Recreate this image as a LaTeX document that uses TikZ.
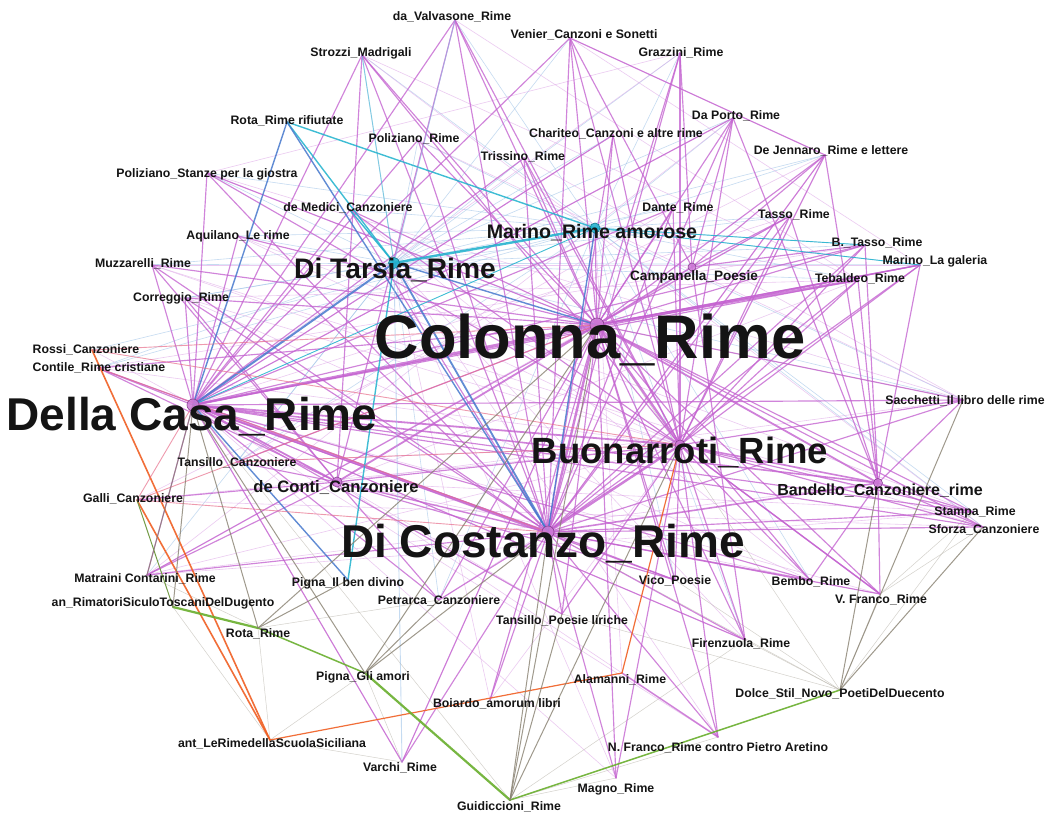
\documentclass[tikz,border=0pt]{standalone}
\usepackage{fontspec}
\setmainfont{Liberation Sans}
\definecolor{mg}{RGB}{196,98,208}
\definecolor{mgl}{RGB}{222,168,232}
\definecolor{cy}{RGB}{30,178,205}
\definecolor{bl}{RGB}{70,120,205}
\definecolor{lbl}{RGB}{150,190,230}
\definecolor{orn}{RGB}{240,95,35}
\definecolor{sal}{RGB}{232,112,140}
\definecolor{grn}{RGB}{105,175,45}
\definecolor{gy}{RGB}{135,128,112}
\begin{document}
\begin{tikzpicture}[x=1pt,y=-1pt,line cap=round,
  me/.style={draw=mg,line width=1.15pt,opacity=.78},
  mt/.style={draw=mg,line width=2.4pt,opacity=.8},
  mf/.style={draw=mgl,line width=.6pt,opacity=.6},
  be/.style={draw=bl,line width=1.4pt,opacity=.85},
  ce/.style={draw=cy,line width=1.4pt,opacity=.85},
  bf/.style={draw=lbl,line width=.6pt,opacity=.55},
  oe/.style={draw=orn,line width=1.6pt,opacity=.9},
  se/.style={draw=sal,line width=.9pt,opacity=.7},
  ge/.style={draw=grn,line width=1.5pt,opacity=.9},
  ye/.style={draw=gy,line width=1pt,opacity=.8},
  yf/.style={draw=gy!60,line width=.5pt,opacity=.6},
  txt/.style={anchor=base,inner sep=0pt,text=black!92,font=\bfseries\fontsize{12.3}{13}\selectfont},
  dot/.style={circle,inner sep=0pt,fill=mg!85,draw=mg!70!black,line width=.6pt,fill opacity=.85}]
\useasboundingbox[fill=white] (0,0) rectangle (1053,814);

% vertex positions
\foreach \n/\x/\y in {
  val/455/20, ven/570/38, gra/680/53, str/362/55, rrr/287/122, por/418/140,
  cha/613/135, tri/524/158, dap/733/118, dej/825/155, pst/207/173, med/350/210,
  dan/673/208, tas/790/216, aqu/238/236, bta/865/245, muz/152/265, mlg/920/265,
  teb/858/280, cor/185/298, ros/92/350, con/98/368, sac/963/400, tac/237/462,
  gal/137/500, sta/973/512, sfo/983/527, mat/147/575, pbd/348/580, rim/173/607,
  vic/675/580, bem/810/580, pet/439/600, vfr/880/594, tpl/562/614, rot/258/628,
  fir/745/640, pga/365/673, ala/622/673, boi/490/700, dsn/840/690, ant/270/740,
  nfr/718/737, var/402/762, mag/616/778, gui/510/800,
  col/597/325, dca/193/405, cos/548/532, buo/680/445, tar/394/263, mar/595/228,
  dco/337/482, ban/878/483, cam/692/267}
  \coordinate (\n) at (\x,\y);

% faint background mesh
\foreach \p in {val,ven,str,por,cha,tri,pst,med,aqu,muz,cor,con,tac,mat,pet,sac,bta,mlg,teb,dej,dap,dan,tas,gra}
  \draw[bf] (\p) -- (tar);
\foreach \p in {val,str,por,pst,aqu,muz,cor,ros,con,bta,mlg,teb,sac,tas,dej,dap,gra,pet,tac,vic,bem,fir,med,sta,sfo}
  \draw[bf] (\p) -- (mar);
\foreach \a/\b in {ven/dej,gra/dca,str/teb,dap/dca,dej/cos,tas/dca,pst/col,aqu/buo,muz/buo,cor/buo,
  val/teb,ven/mlg,gra/pst,cha/dca,tri/sac,str/sfo,dap/mat,dej/gal,por/sac,med/bem,dan/tac,tas/mat,
  bta/con,mlg/muz,teb/cor,sac/pst,sta/aqu,sfo/muz,vic/con,bem/cor,fir/dca,nfr/dca,mag/dca,tpl/dco,
  ala/dco,var/col,boi/buo,pet/buo,mat/buo,gal/buo,tac/buo,con/buo,ros/dco,vfr/dca,vfr/cos,fir/tar,
  nfr/tar,mag/tar,boi/tar,ala/mar,var/dca,ban/mat,sta/mat,sfo/gal,sac/dco,sta/dco,bem/dco,teb/dco}
  \draw[mf] (\a) -- (\b);
\foreach \a/\b in {dsn/fir,dsn/tpl,dsn/vic,dsn/cos,dsn/col,dsn/sta,dsn/vfr,gui/nfr,gui/mag,gui/fir,
  pga/var,rot/ant,rim/ant,mat/rot,sac/col,sfo/vfr,sta/vfr,gui/dca,ant/var,pga/ant,rot/pet}
  \draw[yf] (\a) -- (\b);

% ordinary links to the main hubs
\foreach \p in {val,ven,gra,str,por,cha,tri,dap,dej,pst,med,dan,tas,aqu,bta,muz,mlg,cor,con,
  sac,tac,sta,sfo,mat,vic,bem,pet,vfr,tpl,fir,nfr,var,mag,boi}
  \draw[me] (\p) -- (col);
\foreach \p in {val,ven,str,por,cha,tri,pst,med,aqu,muz,cor,con,tac,mat,pet,tpl,vic,bem,
  sta,sfo,sac,teb,mlg,bta,dan,fir,var,dap}
  \draw[me] (\p) -- (dca);
\foreach \p in {val,ven,gra,str,por,cha,tri,dap,dej,pst,med,dan,tas,bta,mlg,teb,sac,cor,muz,
  aqu,con,sta,sfo,vic,bem,vfr,tpl,fir,nfr,mag,var,boi,pet,mat}
  \draw[me] (\p) -- (cos);
\foreach \p in {val,ven,gra,str,cha,tri,dap,dej,dan,tas,bta,mlg,teb,sac,sta,sfo,bem,vfr,fir,
  nfr,vic,pst,med,mag,tpl}
  \draw[me] (\p) -- (buo);
\foreach \p in {sac,sta,sfo,vfr,bem,teb,bta,mlg,tas,dej,dap}
  \draw[me] (\p) -- (ban);
\foreach \p in {tac,gal,mat,con,cor,muz,pet,vic,str,val}
  \draw[me] (\p) -- (dco);
\foreach \p in {dap,dej,tas,gra,ven,bta,fir}
  \draw[me] (\p) -- (cam);

% heavy links between hubs
\draw[mt] (col) -- (cos);
\draw[mt] (col) -- (dca);
\draw[mt] (col) -- (buo);
\draw[mt] (dca) -- (cos);
\draw[mt] (cos) -- (buo);
\draw[mt,line width=1.8pt] (dca) -- (buo);
\draw[mt,line width=1.8pt] (col) -- (ban);
\draw[mt] (col) -- (teb);
\draw[mt,line width=1.8pt] (col) -- (dco);
\draw[mt,line width=1.8pt] (dca) -- (dco);
\draw[mt,line width=1.6pt] (col) -- (cam);
\draw[mt,line width=1.6pt] (buo) -- (ban);
\draw[mt,line width=1.6pt] (cos) -- (ban);
\draw[mt,line width=1.6pt] (dca) -- (ban);
\draw[mt,line width=1.4pt] (buo) -- (vfr);
\draw[mt,line width=1.4pt] (cos) -- (dco);
\draw[mt,line width=1.4pt] (ala) -- (nfr);
\draw[mt,line width=1.4pt] (col) -- (mlg);
\draw[me] (ven) -- (dej);
\draw[me] (col) -- (mar);
\draw[me] (buo) -- (dco);

% cyan and blue links
\draw[ce,line width=2.4pt] (tar) -- (mar);
\draw[ce] (rrr) -- (tar);
\draw[ce] (rrr) -- (mar);
\draw[ce] (med) -- (tar);
\draw[ce] (tar) -- (pbd);
\draw[be,line width=2pt] (tar) -- (dca);
\draw[be,line width=1.8pt] (tar) -- (cos);
\draw[be] (tar) -- (col);
\draw[be] (rrr) -- (dca);
\draw[be] (rrr) -- (cos);
\draw[be] (dca) -- (pbd);
\draw[be] (mar) -- (cos);
\draw[bf,line width=1pt,draw=cy!70!lbl] (str) -- (tar);
\draw[ce,line width=.9pt] (mar) -- (bta);
\draw[ce,line width=.9pt] (mar) -- (mlg);
\draw[ce,line width=.9pt] (mar) -- (dca);
\draw[bf,line width=.9pt] (var) -- (tar);
\draw[bf,line width=.9pt] (val) -- (tar);

% orange links
\draw[oe] (ros) -- (ant);
\draw[oe] (gal) -- (ant);
\draw[oe,line width=1.2pt] (ant) -- (ala);
\draw[oe,line width=1.2pt] (ala) -- (buo);
\draw[se] (ros) -- (col);
\draw[se] (ros) -- (buo);
\draw[se] (gal) -- (col);
\draw[se] (gal) -- (cos);
\draw[se] (con) -- (cos);
\draw[se] (tac) -- (buo);
\draw[se] (gal) -- (dca);

% green links
\draw[ge,line width=2.2pt] (rim) -- (rot);
\draw[ge] (rot) -- (pga);
\draw[ge,line width=2.2pt] (pga) -- (gui);
\draw[ge] (gui) -- (dsn);
\draw[draw=grn!60!gy,line width=1pt] (gal) -- (rim);

% grey links
\foreach \a/\b in {gui/cos,gui/col,gui/buo,gui/tpl,pga/pet,pga/cos,pga/col,pga/dca,rot/col,rot/dca,
  dsn/ban,dsn/sac,dsn/sfo,mat/dca,rim/dca,pbd/rot}
  \draw[ye] (\a) -- (\b);

% hub markers
\node[dot,minimum size=14pt] (col-d) at (col) {};
\node[dot,minimum size=12pt] (dca-d) at (dca) {};
\node[dot,minimum size=12pt] (cos-d) at (cos) {};
\node[dot,minimum size=10pt] (buo-d) at (buo) {};
\node[dot,minimum size=10pt] (dco-d) at (dco) {};
\node[dot,minimum size=9pt] (ban-d) at (ban) {};
\node[dot,minimum size=8pt] (cam-d) at (cam) {};
\node[dot,fill=cy,draw=cy!70!black,minimum size=11pt] (tar-d) at (tar) {};
\node[dot,fill=cy,draw=cy!70!black,minimum size=10pt] (mar-d) at (mar) {};

% labels
\foreach \n/\x/\y/\t in {
  val/452/20/da\_Valvasone\_Rime, ven/584/38/Venier\_Canzoni e Sonetti, gra/681/56/Grazzini\_Rime,
  str/361/56/Strozzi\_Madrigali, rrr/287/124/Rota\_Rime rifiutate, por/414/142/Poliziano\_Rime,
  cha/616/137/Chariteo\_Canzoni e altre rime, tri/523/160/Trissino\_Rime, dap/736/119/Da Porto\_Rime,
  dej/831/154/De Jennaro\_Rime e lettere, pst/207/177/Poliziano\_Stanze per la giostra,
  med/348/211/de Medici\_Canzoniere, dan/678/211/Dante\_Rime, tas/794/218/Tasso\_Rime,
  aqu/238/239/Aquilano\_Le rime, bta/877/246/B.\_Tasso\_Rime, muz/143/267/Muzzarelli\_Rime,
  mlg/935/264/Marino\_La galeria, teb/860/282/Tebaldeo\_Rime, cor/181/301/Correggio\_Rime,
  ros/86/353/Rossi\_Canzoniere, con/99/371/Contile\_Rime cristiane,
  sac/965/404/Sacchetti\_Il libro delle rime, tac/237/466/Tansillo\_Canzoniere,
  gal/133/502/Galli\_Canzoniere, sta/975/515/Stampa\_Rime, sfo/984/533/Sforza\_Canzoniere,
  mat/145/582/Matraini Contarini\_Rime, pbd/348/586/Pigna\_Il ben divino,
  rim/163/606/an\_RimatoriSiculoToscaniDelDugento, vic/675/584/Vico\_Poesie, bem/811/585/Bembo\_Rime,
  pet/439/604/Petrarca\_Canzoniere, vfr/881/603/V. Franco\_Rime, tpl/562/624/Tansillo\_Poesie liriche,
  rot/258/637/Rota\_Rime, fir/741/647/Firenzuola\_Rime, pga/363/680/Pigna\_Gli amori,
  ala/620/683/Alamanni\_Rime, boi/497/707/Boiardo\_amorum libri,
  dsn/840/697/Dolce\_Stil\_Novo\_PoetiDelDuecento, ant/272/747/ant\_LeRimedellaScuolaSiciliana,
  nfr/718/751/N. Franco\_Rime contro Pietro Aretino, var/400/771/Varchi\_Rime,
  mag/616/792/Magno\_Rime, gui/509/810/Guidiccioni\_Rime}
  \node[txt] (\n-l) at (\x,\y) {\t};

\node[txt,font=\bfseries\fontsize{61.5}{62}\selectfont] (col-l) at (590,358) {Colonna\_Rime};
\node[txt,font=\bfseries\fontsize{46}{46}\selectfont] (dca-l) at (192,430) {Della Casa\_Rime};
\node[txt,font=\bfseries\fontsize{46}{46}\selectfont] (cos-l) at (543,557) {Di Costanzo\_Rime};
\node[txt,font=\bfseries\fontsize{36.5}{37}\selectfont] (buo-l) at (680,463) {Buonarroti\_Rime};
\node[txt,font=\bfseries\fontsize{28.2}{29}\selectfont] (tar-l) at (395,278) {Di Tarsia\_Rime};
\node[txt,font=\bfseries\fontsize{19.6}{20}\selectfont] (mar-l) at (592,238) {Marino\_Rime amorose};
\node[txt,font=\bfseries\fontsize{16.6}{17}\selectfont] (dco-l) at (336,492) {de Conti\_Canzoniere};
\node[txt,font=\bfseries\fontsize{16}{16}\selectfont] (ban-l) at (880,495) {Bandello\_Canzoniere\_rime};
\node[txt,font=\bfseries\fontsize{13.6}{14}\selectfont] (cam-l) at (694,280) {Campanella\_Poesie};
\end{tikzpicture}
\end{document}
